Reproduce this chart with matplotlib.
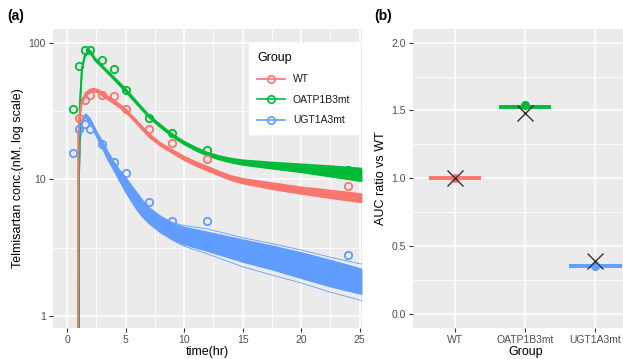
import matplotlib
matplotlib.use("Agg")
import matplotlib.pyplot as plt
from matplotlib.lines import Line2D
from matplotlib.ticker import FixedLocator, NullFormatter
import numpy as np

plt.rcParams["font.family"] = ["Liberation Sans", "DejaVu Sans"]

GROUPS = ["WT", "OATP1B3mt", "UGT1A3mt"]
COLORS = {"WT": "#F8766D", "OATP1B3mt": "#00BA38", "UGT1A3mt": "#619CFF"}

# observed concentrations (open circles), nM
obs_time = [0.5, 1, 1.5, 2, 3, 4, 5, 7, 9, 12, 24]
obs_wt = [np.nan, 28.2, 37.9, 41.7, 41.7, 40.5, 33.0, 23.5, 18.6, 14.2, 9.0]
obs_oatp = [33.0, 67.2, 87.8, 87.8, 75.2, 64.3, 45.4, 28.2, 22.0, 16.5, 11.8]
obs_ugt = [15.7, 23.4, 25.5, 23.4, 18.3, 13.4, 11.2, 6.8, 5.0, 5.0, 2.8]

# simulated bands (lower / upper envelope), nM
wt_t = [0.95, 0.97, 1.05, 1.25, 1.6, 2.0, 2.3, 2.7, 3, 4, 5, 6, 7, 8, 9, 10,
        11, 12, 13, 14, 15, 17.5, 20, 22.5, 25.2]
wt_lo = [0.5, 20, 27, 35.5, 41, 43.3, 44, 43, 41, 36, 31.3, 25.4, 20.5, 17.6,
         15.6, 13.9, 12.6, 11.6, 10.7, 9.9, 9.35, 8.5, 7.85, 7.3, 6.8]
wt_hi = [0.5, 20, 28, 37, 43, 45.5, 46, 45, 43, 38, 32.7, 26.6, 21.5, 18.4,
         16.4, 14.7, 13.4, 12.4, 11.4, 10.6, 10.1, 9.4, 8.75, 8.3, 7.8]

oatp_t = [1.0, 1.02, 1.1, 1.27, 1.5, 1.8, 2.0, 2.4, 3, 4, 5, 6, 7, 8, 9, 10,
          11, 12, 13, 14, 15, 17.5, 20, 22.5, 25.2]
oatp_lo = [0.5, 10, 34, 62, 78, 85, 84, 74, 66, 54, 44, 35.3, 28.5, 24,
           20.6, 18.1, 16.3, 14.9, 14.0, 13.3, 12.8, 12.0, 11.3, 10.5, 9.7]
oatp_hi = [0.5, 10, 35, 64, 80, 88, 87, 77, 68, 56, 46, 36.7, 29.5, 25,
           21.4, 18.9, 17.1, 15.7, 14.8, 14.2, 13.8, 13.3, 12.9, 12.5, 12.0]

ugt_t = [1.0, 1.02, 1.1, 1.3, 1.6, 2, 2.5, 3, 3.5, 4, 4.5, 5, 5.5, 6, 6.5, 7,
         8, 9, 10, 12, 15, 17.5, 20, 22.5, 25.2]
ugt_lo = [0.5, 10, 19, 26.5, 28.5, 26, 21, 17.2, 14.0, 11.8, 9.8, 8.2, 7.0,
          6.0, 5.3, 4.8, 4.1, 3.65, 3.35, 3.0, 2.5, 2.2, 1.9, 1.65, 1.45]
ugt_hi = [0.5, 10, 20, 27.5, 30, 27.5, 22.5, 19, 15.8, 13.4, 11.6, 10.3, 9.0,
          7.9, 6.9, 6.2, 5.3, 4.75, 4.45, 4.1, 3.6, 3.25, 2.9, 2.55, 2.2]
# a few stray simulated profiles outside the main UGT band
ugt_out_t = [7, 8, 9, 10, 12, 15, 17.5, 20, 22.5, 25.2]
ugt_out_hi = [6.2, 5.4, 4.85, 4.6, 4.35, 3.75, 3.4, 3.05, 2.7, 2.4]
ugt_out_lo = [4.8, 4.1, 3.6, 3.25, 2.85, 2.3, 2.0, 1.75, 1.5, 1.3]

# panel (b): AUC ratio vs WT
auc_pred = [1.0, 1.527, 0.355]   # crossbar
auc_dot = [1.0, 1.537, 0.355]    # point
auc_obs = [1.0, 1.483, 0.392]    # cross

BG = "#EBEBEB"
TXT = "#4D4D4D"


def style_axis(ax):
    ax.set_facecolor(BG)
    for s in ax.spines.values():
        s.set_visible(False)
    ax.grid(True, which="major", color="white", lw=1.1)
    ax.grid(True, which="minor", color="white", lw=0.55)
    ax.set_axisbelow(True)
    ax.tick_params(which="major", length=3, width=0.8, color="#333333",
                   labelsize=7.5, labelcolor=TXT, pad=2)
    ax.tick_params(which="minor", length=0)


fig = plt.figure(figsize=(6.23, 3.59), dpi=100)

# ---- panel (a) ----
ax = fig.add_axes([0.085, 0.0864, 0.496, 0.833])
style_axis(ax)
ax.set_yscale("log")

bands = [
    ("UGT1A3mt", ugt_t, ugt_lo, ugt_hi, 2),
    ("OATP1B3mt", oatp_t, oatp_lo, oatp_hi, 3),
    ("WT", wt_t, wt_lo, wt_hi, 4),
]
for g, t, lo, hi, z in bands:
    c = COLORS[g]
    ax.fill_between(t, lo, hi, color=c, lw=0, zorder=z)
    ax.plot(t, lo, color=c, lw=1.3, zorder=z, solid_capstyle="butt")
    ax.plot(t, hi, color=c, lw=1.3, zorder=z, solid_capstyle="butt")
c = COLORS["UGT1A3mt"]
ax.plot(ugt_out_t, ugt_out_hi, color=c, lw=0.6, zorder=2)
ax.plot(ugt_out_t, ugt_out_lo, color=c, lw=0.6, zorder=2)

for g, vals in zip(GROUPS, [obs_wt, obs_oatp, obs_ugt]):
    ax.plot(obs_time, vals, "o", ls="none", ms=5.3, mfc="none", mew=1.3,
            mec=COLORS[g], zorder=6)

ax.set_xlim(-1.2, 25.2)
ax.set_ylim(0.82, 126)
ax.xaxis.set_major_locator(FixedLocator([0, 5, 10, 15, 20, 25]))
ax.xaxis.set_minor_locator(FixedLocator([2.5, 7.5, 12.5, 17.5, 22.5]))
ax.yaxis.set_major_locator(FixedLocator([1, 10, 100]))
ax.yaxis.set_minor_locator(FixedLocator([10 ** 0.5, 10 ** 1.5]))
ax.yaxis.set_minor_formatter(NullFormatter())
ax.set_yticklabels(["1", "10", "100"])
ax.set_xlabel("time(hr)", fontsize=9, labelpad=1)
ax.set_ylabel("Telmisartan conc.(nM, log scale)", fontsize=9, labelpad=3)

handles = [Line2D([], [], color=COLORS[g], lw=1.2, marker="o", ms=5.3,
                  mfc="none", mew=1.2) for g in GROUPS]
leg = ax.legend(handles, GROUPS, title="Group", loc="upper left",
                bbox_to_anchor=(0.618, 0.968), frameon=True, fancybox=False,
                edgecolor="white", facecolor="white", framealpha=1,
                fontsize=7.5, title_fontsize=9, handlelength=2.6,
                handletextpad=0.8, labelspacing=1.0, borderpad=0.8,
                alignment="left")
for txt in leg.get_texts():
    txt.set_color("#1A1A1A")

fig.text(0.012, 0.955, "(a)", fontsize=10, fontweight="bold", va="center")

# ---- panel (b) ----
bx = fig.add_axes([0.663, 0.0864, 0.360, 0.833])
style_axis(bx)
xpos = np.arange(1, len(GROUPS) + 1)
for i, g in enumerate(GROUPS):
    bx.hlines(auc_pred[i], xpos[i] - 0.375, xpos[i] + 0.375,
              color=COLORS[g], lw=2.8, zorder=3)
    bx.plot(xpos[i], auc_dot[i], "o", color=COLORS[g], ms=5.5, zorder=4)
bx.plot(xpos, auc_obs, "x", ls="none", color="#333333", ms=11, mew=1.0,
        zorder=5)
bx.set_xlim(0.4, 3.6)
bx.set_ylim(-0.1, 2.1)
bx.set_xticks(xpos)
bx.set_xticklabels(GROUPS)
bx.yaxis.set_major_locator(FixedLocator([0, 0.5, 1.0, 1.5, 2.0]))
bx.yaxis.set_minor_locator(FixedLocator([0.25, 0.75, 1.25, 1.75]))
bx.set_yticklabels(["0.0", "0.5", "1.0", "1.5", "2.0"])
bx.grid(False, axis="x", which="minor")
bx.set_xlabel("Group", fontsize=9, labelpad=1)
bx.set_ylabel("AUC ratio vs WT", fontsize=9, labelpad=3)

fig.text(0.600, 0.955, "(b)", fontsize=10, fontweight="bold", va="center")

fig.savefig("out.png", dpi=100)
